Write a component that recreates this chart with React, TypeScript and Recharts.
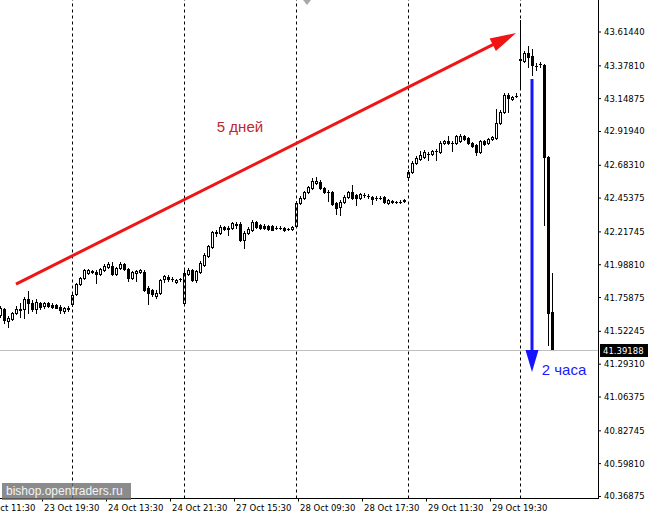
import { Bar, ComposedChart, ReferenceDot, ReferenceLine, XAxis, YAxis } from 'recharts'

const CHART_W = 675
const CHART_H = 516
const AXIS_FONT = '"DejaVu Sans", Tahoma, sans-serif'
const NOTE_FONT = '"Liberation Sans", Arial, sans-serif'

// 30-minute bars. Slots before the first visible bar and after the last one
// are left empty so the time labels and the right-hand shift line up.
const LEAD_SLOTS = 6
const TAIL_SLOTS = 11

// one line per trading day: 23 Oct (tail), 24, 27, 28, 29 Oct, 30 Oct (head)
const opens = [
  41.636, 41.678, 41.594, 41.608, 41.65, 41.675, 41.678, 41.748, 41.72, 41.678, 41.72, 41.699, 41.72, 41.706, 41.706, 41.692, 41.664, 41.682,
  41.713, 41.783, 41.853, 41.895, 41.93, 41.937, 41.937, 41.923, 41.951, 41.972, 41.979, 41.923, 41.965, 41.993, 41.958, 41.895, 41.93, 41.937, 41.937, 41.825, 41.811, 41.769, 41.79, 41.888, 41.902, 41.888, 41.867, 41.885,
  41.72, 41.923, 41.951, 41.881, 41.937, 41.986, 42.049, 42.112, 42.213, 42.21, 42.252, 42.245, 42.245, 42.273, 42.273, 42.161, 42.21, 42.231, 42.287, 42.266, 42.262, 42.259, 42.259, 42.245, 42.245, 42.245, 42.238, 42.238,
  42.259, 42.419, 42.454, 42.496, 42.524, 42.559, 42.566, 42.524, 42.496, 42.496, 42.419, 42.391, 42.426, 42.461, 42.496, 42.475, 42.454, 42.475, 42.468, 42.461, 42.454, 42.454, 42.461, 42.419, 42.433, 42.426, 42.426, 42.44,
  42.601, 42.636, 42.699, 42.727, 42.741, 42.762, 42.762, 42.783, 42.776, 42.839, 42.853, 42.839, 42.839, 42.853, 42.888, 42.874, 42.839, 42.825, 42.776, 42.853, 42.839, 42.867, 42.874, 42.978, 43.055, 43.174, 43.146, 43.167,
  43.426, 43.412, 43.468, 43.447, 43.377, 43.391, 43.384, 42.741, 41.657
]
const highs = [
  41.699, 41.685, 41.629, 41.657, 41.699, 41.72, 41.762, 41.804, 41.741, 41.748, 41.727, 41.727, 41.727, 41.72, 41.713, 41.706, 41.692, 41.699,
  41.79, 41.86, 41.902, 41.958, 41.958, 41.951, 41.951, 41.965, 41.993, 42.007, 42.007, 41.972, 42.007, 42.0, 41.965, 41.944, 41.951, 41.958, 41.951, 41.839, 41.818, 41.811, 41.888, 41.916, 41.916, 41.902, 41.888, 41.895,
  41.951, 41.965, 41.958, 41.951, 42.014, 42.07, 42.126, 42.224, 42.231, 42.266, 42.259, 42.259, 42.287, 42.287, 42.287, 42.224, 42.252, 42.301, 42.294, 42.273, 42.273, 42.266, 42.266, 42.259, 42.259, 42.252, 42.245, 42.259,
  42.433, 42.468, 42.503, 42.538, 42.594, 42.601, 42.58, 42.531, 42.51, 42.503, 42.426, 42.44, 42.475, 42.503, 42.545, 42.482, 42.489, 42.489, 42.482, 42.468, 42.468, 42.468, 42.468, 42.447, 42.44, 42.433, 42.44, 42.447,
  42.65, 42.713, 42.748, 42.783, 42.79, 42.776, 42.79, 42.797, 42.853, 42.86, 42.888, 42.853, 42.895, 42.902, 42.895, 42.881, 42.846, 42.832, 42.86, 42.86, 42.874, 42.888, 43.076, 43.069, 43.188, 43.188, 43.167, 43.188,
  43.698, 43.482, 43.517, 43.496, 43.398, 43.405, 43.391, 42.748, 41.93
]
const lows = [
  41.622, 41.58, 41.552, 41.601, 41.643, 41.622, 41.615, 41.65, 41.664, 41.65, 41.678, 41.685, 41.692, 41.685, 41.685, 41.65, 41.65, 41.664,
  41.699, 41.776, 41.846, 41.888, 41.923, 41.93, 41.86, 41.916, 41.944, 41.965, 41.916, 41.916, 41.958, 41.951, 41.874, 41.888, 41.874, 41.93, 41.804, 41.713, 41.769, 41.755, 41.783, 41.867, 41.874, 41.874, 41.86, 41.874,
  41.713, 41.916, 41.874, 41.867, 41.93, 41.979, 42.042, 42.105, 42.189, 42.203, 42.231, 42.196, 42.238, 42.245, 42.154, 42.105, 42.203, 42.224, 42.245, 42.238, 42.238, 42.231, 42.231, 42.238, 42.238, 42.224, 42.231, 42.231,
  42.252, 42.412, 42.447, 42.489, 42.517, 42.552, 42.517, 42.489, 42.433, 42.405, 42.343, 42.336, 42.419, 42.454, 42.447, 42.405, 42.447, 42.461, 42.454, 42.412, 42.44, 42.447, 42.419, 42.412, 42.419, 42.419, 42.419, 42.426,
  42.58, 42.629, 42.692, 42.72, 42.734, 42.72, 42.755, 42.72, 42.769, 42.832, 42.832, 42.783, 42.832, 42.846, 42.86, 42.832, 42.811, 42.755, 42.769, 42.825, 42.832, 42.86, 42.867, 42.971, 43.048, 43.055, 43.139, 43.16,
  43.223, 43.405, 43.37, 43.314, 43.349, 43.37, 42.266, 41.427, 41.39
]
const closes = [
  41.685, 41.601, 41.615, 41.65, 41.678, 41.678, 41.748, 41.72, 41.678, 41.727, 41.692, 41.72, 41.699, 41.692, 41.689, 41.671, 41.685, 41.685,
  41.776, 41.853, 41.895, 41.951, 41.951, 41.941, 41.923, 41.958, 41.979, 41.993, 41.923, 41.965, 41.993, 41.958, 41.895, 41.937, 41.944, 41.951, 41.811, 41.79, 41.783, 41.79, 41.881, 41.909, 41.888, 41.885, 41.881, 41.888,
  41.93, 41.951, 41.881, 41.944, 42.0, 42.056, 42.119, 42.217, 42.217, 42.252, 42.238, 42.241, 42.28, 42.269, 42.161, 42.21, 42.238, 42.287, 42.252, 42.245, 42.245, 42.238, 42.234, 42.243, 42.243, 42.231, 42.236, 42.252,
  42.419, 42.454, 42.496, 42.531, 42.573, 42.573, 42.524, 42.496, 42.493, 42.412, 42.384, 42.426, 42.461, 42.496, 42.454, 42.454, 42.482, 42.473, 42.466, 42.447, 42.452, 42.456, 42.426, 42.44, 42.426, 42.424, 42.428, 42.433,
  42.636, 42.699, 42.734, 42.755, 42.776, 42.76, 42.783, 42.781, 42.839, 42.853, 42.839, 42.837, 42.888, 42.888, 42.867, 42.839, 42.818, 42.776, 42.853, 42.832, 42.867, 42.881, 42.978, 43.055, 43.174, 43.153, 43.16, 43.165,
  43.419, 43.468, 43.44, 43.384, 43.375, 43.389, 42.741, 41.65, 41.39188
]

const timeLabels = ['23 Oct 11:30', '23 Oct 19:30', '24 Oct 13:30', '24 Oct 21:30', '27 Oct 15:30', '28 Oct 09:30', '28 Oct 17:30', '29 Oct 11:30', '29 Oct 19:30']
const timeLabelSlots = [0, 16, 32, 48, 64, 80, 96, 112, 128]
const daySeparatorSlots = [24, 52, 80, 108, 136]
const priceTicks = [43.6144, 43.3781, 43.14875, 42.9194, 42.6831, 42.45375, 42.21745, 41.9881, 41.75875, 41.52245, 41.2931, 41.06375, 40.82745, 40.5981, 40.36875]
const priceDomain = [40.3545, 43.838]
const lastPrice = 41.39188

// annotations drawn on top of the chart (slot, price)
const trendArrow = [{ x: 10, y: 41.853 }, { x: 135, y: 43.607 }]
const dropArrow = [{ x: 139, y: 43.286 }, { x: 139, y: 41.239 }]
const daysNote = { x: 66, y: 42.951, text: '5 дней' }
const hoursNote = { x: 147, y: 41.252, text: '2 часа' }

type Row = { i: number; o: number | null; h: number | null; l: number | null; c: number | null }

const rows: Row[] = []
for (let i = 0; i < LEAD_SLOTS; i++) rows.push({ i, o: null, h: null, l: null, c: null })
opens.forEach((o, j) => rows.push({ i: LEAD_SLOTS + j, o, h: highs[j], l: lows[j], c: closes[j] }))
for (let t = 0; t < TAIL_SLOTS; t++) rows.push({ i: LEAD_SLOTS + opens.length + t, o: null, h: null, l: null, c: null })

function Candle(props: any) {
  const { x, y, width, height, payload } = props
  if (payload == null || payload.h == null) return null
  const { o, h, l, c } = payload as { o: number; h: number; l: number; c: number }
  const top = Math.min(y, y + height)
  const bot = Math.max(y, y + height)
  const py = (v: number) => (h === l ? top : top + ((h - v) / (h - l)) * (bot - top))
  const cx = Math.round(x + width / 2)
  const yH = Math.round(py(h))
  const yL = Math.round(py(l))
  const yO = Math.round(py(o))
  const yC = Math.round(py(c))
  const bTop = Math.min(yO, yC)
  const bBot = Math.max(yO, yC)
  let body
  if (bBot - bTop < 1) {
    body = <line x1={cx - 1} x2={cx + 2} y1={bTop + 0.5} y2={bTop + 0.5} stroke="#000" strokeWidth={1} />
  } else if (c < o) {
    body = <rect x={cx - 1} y={bTop} width={3} height={bBot - bTop + 1} fill="#000" />
  } else {
    body = <rect x={cx - 0.5} y={bTop + 0.5} width={2} height={bBot - bTop} fill="#fff" stroke="#000" strokeWidth={1} />
  }
  return (
    <g>
      <line x1={cx + 0.5} x2={cx + 0.5} y1={yH} y2={yL + 1} stroke="#000" strokeWidth={1} />
      {body}
    </g>
  )
}

function TimeTick(props: any) {
  const { x, y, payload } = props
  const n = timeLabelSlots.indexOf(payload.value)
  if (n < 0) return <g />
  const tx = Math.round(x)
  return (
    <g>
      <line x1={tx + 2.5} x2={tx + 2.5} y1={y} y2={y + 3} stroke="#000" />
      <text x={tx + 4} y={y + 12.5} fontSize={8.5} fontFamily={AXIS_FONT} fill="#000">
        {timeLabels[n]}
      </text>
    </g>
  )
}

function separatorLine(p: any) {
  const x = Math.floor(p.x1) + 0.5
  return <line x1={x} x2={x} y1={p.y1} y2={p.y2} stroke="#000" strokeWidth={1} strokeDasharray="3 3" />
}

function priceTag(p: any) {
  const vb = p.viewBox
  const left = vb.x + vb.width + 2
  const ty = Math.round(vb.y)
  return (
    <g>
      <rect x={left} y={ty - 6} width={48} height={13} fill="#000" />
      <text x={left + 3} y={ty + 4} fontSize={8.5} fontFamily={AXIS_FONT} fill="#fff">
        {lastPrice.toFixed(5)}
      </text>
    </g>
  )
}

function arrow(color: string, width: number, headLen: number, headHalf: number) {
  return (p: any) => {
    const { x1, y1, x2, y2 } = p
    const dx = x2 - x1
    const dy = y2 - y1
    const len = Math.hypot(dx, dy) || 1
    const ux = dx / len
    const uy = dy / len
    const bx = x2 - ux * headLen
    const by = y2 - uy * headLen
    const pts = `${x2},${y2} ${bx - uy * headHalf},${by + ux * headHalf} ${bx + uy * headHalf},${by - ux * headHalf}`
    return (
      <g>
        <line x1={x1} y1={y1} x2={bx + ux * 3} y2={by + uy * 3} stroke={color} strokeWidth={width} />
        <polygon points={pts} fill={color} />
      </g>
    )
  }
}

function note(text: string, color: string) {
  return (p: any) => (
    <text x={p.cx} y={p.cy + 5} textAnchor="middle" fontSize={15} fontFamily={NOTE_FONT} fill={color}>
      {text}
    </text>
  )
}

export default function App() {
  return (
    <div style={{ position: 'fixed', left: 0, top: 0, width: 649, height: 516, overflow: 'hidden', background: '#fff' }}>
      <div style={{ position: 'absolute', left: -26, top: 0 }}>
        <ComposedChart
          width={CHART_W}
          height={CHART_H}
          data={rows}
          margin={{ top: 0, right: 0, bottom: 0, left: 0 }}
          barCategoryGap={0}
          barGap={0}
        >
          <XAxis
            dataKey="i"
            type="category"
            interval={0}
            height={17.5}
            tickSize={0}
            tickMargin={0}
            tickLine={false}
            axisLine={{ stroke: '#000', shapeRendering: 'crispEdges' }}
            tick={<TimeTick />}
          />
          <YAxis
            orientation="right"
            width={51}
            domain={priceDomain}
            allowDataOverflow
            ticks={priceTicks}
            interval={0}
            tickSize={3}
            tickMargin={3}
            tickFormatter={(v: number) => v.toFixed(5)}
            tick={{ fill: '#000', fontSize: 8.5, fontFamily: AXIS_FONT }}
            tickLine={{ stroke: '#000' }}
            axisLine={{ stroke: '#000', shapeRendering: 'crispEdges' }}
          />
          {daySeparatorSlots.map((s) => (
            <ReferenceLine key={s} x={s} shape={separatorLine} />
          ))}
          <ReferenceLine
            y={lastPrice}
            stroke="#c0c0c0"
            strokeWidth={1}
            shapeRendering="crispEdges"
            label={priceTag}
          />
          <Bar
            dataKey={(r: Row) => (r.h == null ? null : [r.l, r.h])}
            shape={Candle}
            isAnimationActive={false}
          />
          <ReferenceLine segment={trendArrow} shape={arrow('#f01414', 3, 26, 7)} ifOverflow="visible" />
          <ReferenceLine segment={dropArrow} shape={arrow('#1414ff', 3, 22, 6.5)} ifOverflow="visible" />
          <ReferenceDot x={daysNote.x} y={daysNote.y} r={0} shape={note(daysNote.text, '#c0272d')} ifOverflow="visible" />
          <ReferenceDot x={hoursNote.x} y={hoursNote.y} r={0} shape={note(hoursNote.text, '#1a1aff')} ifOverflow="visible" />
        </ComposedChart>
      </div>
      <div
        style={{
          position: 'absolute',
          left: 303,
          top: 0,
          width: 0,
          height: 0,
          borderLeft: '4px solid transparent',
          borderRight: '4px solid transparent',
          borderTop: '5px solid #a8a8a8'
        }}
      />
      <div
        style={{
          position: 'absolute',
          left: 2,
          top: 483,
          width: 129,
          height: 17,
          background: 'rgba(110,110,110,0.8)',
          color: '#f4f4f4',
          fontFamily: NOTE_FONT,
          fontSize: 12,
          lineHeight: '17px',
          paddingLeft: 4,
          boxSizing: 'border-box'
        }}
      >
        bishop.opentraders.ru
      </div>
    </div>
  )
}
